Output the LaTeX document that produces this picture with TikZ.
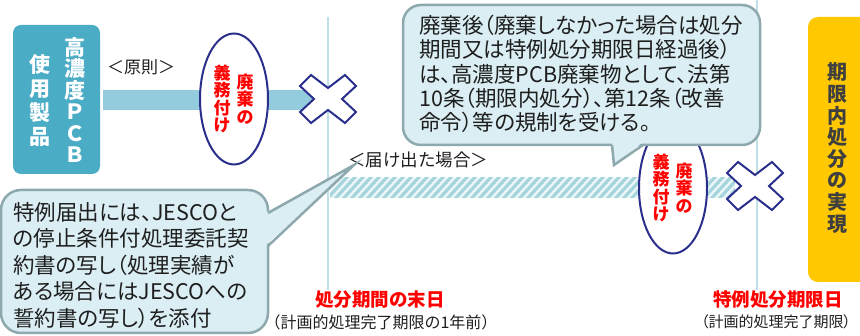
\documentclass[tikz,border=0pt]{standalone}
\usepackage{fontspec}
\setmainfont{Noto Sans CJK JP}
\newfontfamily\jpp{Noto Sans CJK JP}[RawFeature=+palt]
\usetikzlibrary{shapes.geometric}
\definecolor{boxblue}{HTML}{4BACC6}
\definecolor{barblue}{HTML}{93CDDD}
\definecolor{calfill}{HTML}{DAEEF3}
\definecolor{caldraw}{HTML}{8EA9AE}
\definecolor{navy}{HTML}{2B2F8C}
\definecolor{vline}{HTML}{BFE0E6}
\definecolor{hatch}{HTML}{A6D6DC}
\definecolor{hatchbg}{HTML}{ECF6F9}
\definecolor{yel}{HTML}{FFC800}
\definecolor{dgray}{HTML}{3F3F3F}
\definecolor{txt}{HTML}{1E1E1E}
\tikzset{
  vertline/.style={draw=vline,line width=1.5pt},
  callout/.style={draw=caldraw,fill=calfill,line width=2.5pt,rounded corners=18pt},
  oval/.style={ellipse,draw=navy,fill=white,line width=2pt,minimum width=68pt,minimum height=131pt,inner sep=0pt},
  redv/.style={text=red,font=\fontsize{17}{17.6}\selectfont\bfseries,align=center,inner sep=0pt},
  whitev/.style={text=white,font=\fontsize{21}{21.5}\selectfont\bfseries,align=center,inner sep=0pt},
  caltext/.style={text=txt,align=left,inner sep=0pt,anchor=north west},
  xmark/.pic={\draw[navy,fill=white,line width=2pt,line join=miter]
    (-28,-13) -- (-17,-24) -- (0,-11) -- (17,-24) -- (28,-13) -- (14,0) --
    (28,13) -- (17,24) -- (0,11) -- (-17,24) -- (-28,13) -- (-14,0) -- cycle;}
}
\begin{document}
\begin{tikzpicture}[x=1pt,y=-1pt]
\useasboundingbox (0,0) rectangle (860,336);
\clip (0,0) rectangle (860,336);
% vertical guide lines
\coordinate (l1t) at (328,17); \coordinate (l1b) at (328,290);
\coordinate (l2t) at (757,0); \coordinate (l2b) at (757,290);
\draw[vertline] (l1t) -- (l1b);
\draw[vertline] (l2t) -- (l2b);
% left box
\fill[boxblue,rounded corners=8pt] (13,25) rectangle (100,174);
\node[whitev] (pcb) at (75,100) {高\\濃\\度\\Ｐ\\Ｃ\\Ｂ};
\node[whitev,font=\fontsize{21}{24}\selectfont\bfseries] (seihin) at (40,100) {使\\用\\製\\品};
% principle bar
\fill[barblue] (103,90) rectangle (312,110);
\node[font=\fontsize{17}{20}\selectfont,text=txt,inner sep=0pt] (gensoku) at (141,67) {＜原則＞};
% ellipse 1
\node[oval] (e1) at (234,99) {};
\node[redv] (e1r) at (245,99) {廃\\棄\\の};
\node[redv] (e1l) at (222,99) {義\\務\\付\\け};
\pic at (328,99) {xmark};
% hatched bar
\fill[hatchbg] (330,178) rectangle (735,198);
\begin{scope}
\clip (330,178) rectangle (735,198);
\foreach \i in {0,8,...,440}{\draw[hatch,line width=3.2pt] (310+\i,200) -- (332+\i,176);}
\end{scope}
\node[font=\fontsize{17.5}{20}\selectfont,text=txt,inner sep=0pt] (todoke) at (418,160) {＜届け出た場合＞};
% ellipse 2
\node[oval] (e2) at (673,188) {};
\node[redv] (e2r) at (684,188) {廃\\棄\\の};
\node[redv] (e2l) at (661,188) {義\\務\\付\\け};
\pic at (755,186) {xmark};
% yellow box
\fill[yel,rounded corners=10pt] (808,17) rectangle (890,282);
\node[text=dgray,font=\fontsize{20}{21.6}\selectfont\bfseries,align=center,inner sep=0pt] (jitsugen) at (837,148) {期\\限\\内\\処\\分\\の\\実\\現};
% top callout
\draw[callout] (403,5) rectangle (760,145);
\fill[calfill] (612,142) -- (614,165) -- (643,142) -- cycle;
\coordinate (c1a) at (612,145); \coordinate (c1tip) at (614,165); \coordinate (c1b) at (643,145);
\draw[caldraw,line width=2.5pt,line join=miter] (c1a) -- (c1tip) -- (c1b);
\node[caltext,font=\jpp\fontsize{21.5}{24.2}\selectfont] (t1) at (419,15) {廃棄後（廃棄しなかった場合は処分\\期間又は特例処分期限日経過後）\\は、高濃度PCB廃棄物として、法第\\10条（期限内処分）、第12条（改善\\命令）等の規制を受ける。};
% bottom-left callout
\draw[callout,rounded corners=20pt] (1,190) rectangle (268,333);
\fill[calfill] (265,213) -- (354,165) -- (265,246) -- cycle;
\coordinate (c2a) at (268,213); \coordinate (c2tip) at (354,165); \coordinate (c2b) at (268,246);
\draw[caldraw,line width=2.5pt,line join=miter] (c2a) -- (c2tip) -- (c2b);
\node[caltext,font=\jpp\fontsize{21.5}{26.5}\selectfont] (t2) at (13,202) {特例届出には、JESCOと\\の停止条件付処理委託契\\約書の写し（処理実績が\\ある場合にはJESCOへの\\誓約書の写し）を添付};
% bottom labels
\node[text=red,font=\fontsize{18.5}{20}\selectfont\bfseries,inner sep=0pt] (matsu) at (380,300) {処分期間の末日};
\node[text=txt,font=\fontsize{16}{18}\selectfont,inner sep=0pt] (matsus) at (381,322) {（計画的処理完了期限の1年前）};
\node[text=red,font=\fontsize{18.5}{20}\selectfont\bfseries,inner sep=0pt] (tokurei) at (778,300) {特例処分期限日};
\node[text=txt,font=\jpp\fontsize{15}{17}\selectfont,inner sep=0pt] (tokureis) at (776,322) {（計画的処理完了期限）};
\end{tikzpicture}
\end{document}
